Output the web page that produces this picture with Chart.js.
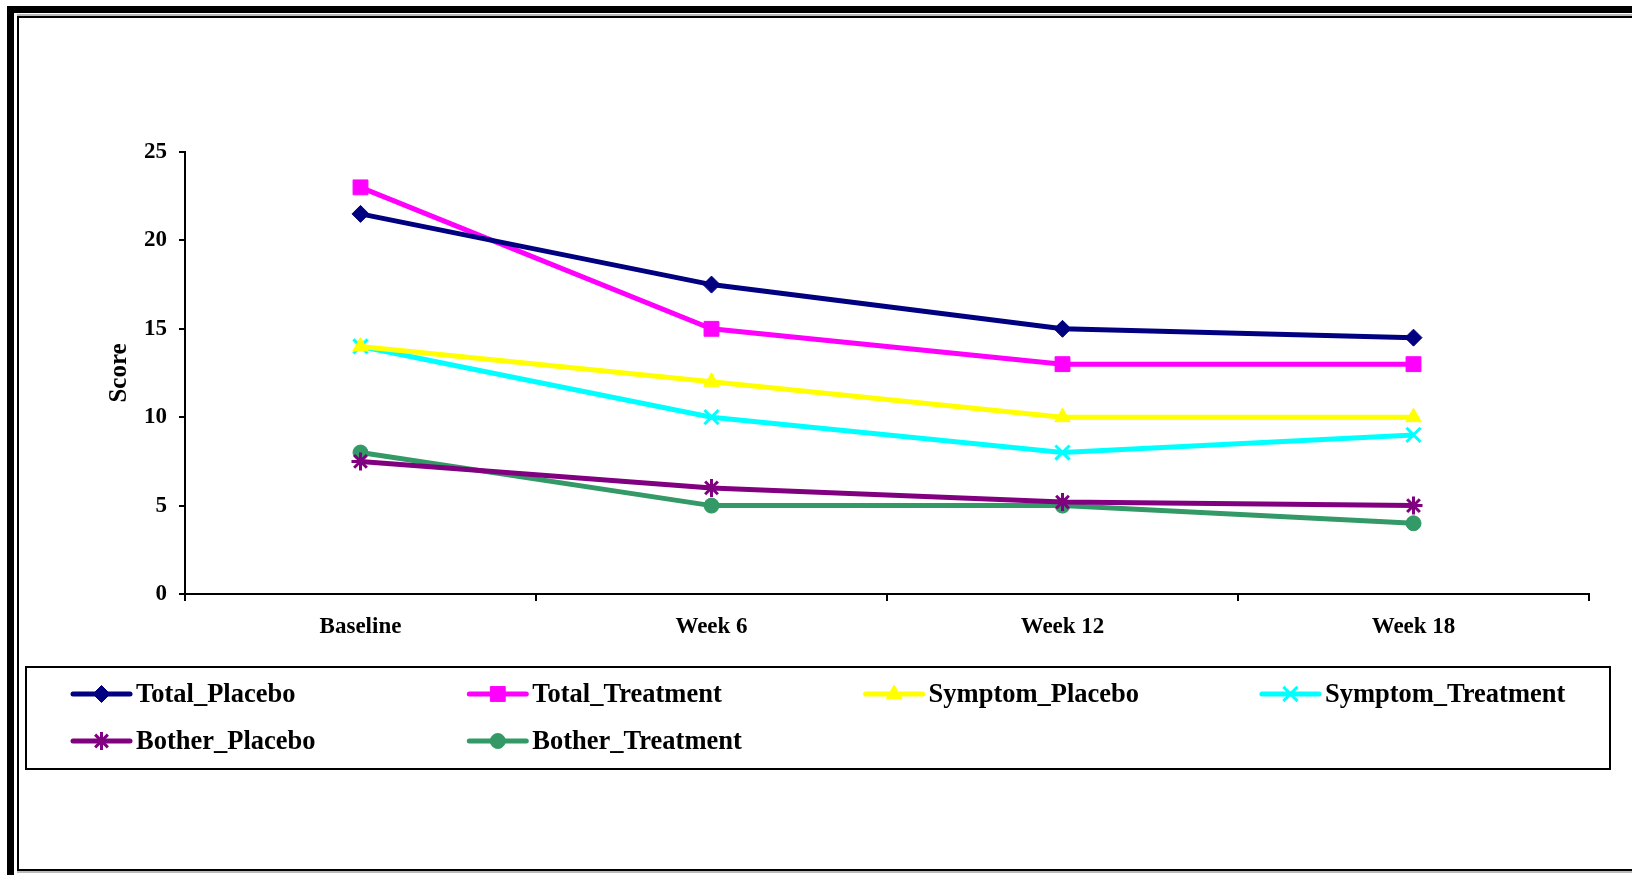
<!DOCTYPE html>
<html>
<head>
<meta charset="utf-8">
<title>Score</title>
<script src="https://cdn.jsdelivr.net/npm/chart.js@4/dist/chart.umd.min.js"></script>
<style>
  html, body { margin: 0; padding: 0; background: #fff; overflow: hidden; }
  #page { position: relative; width: 1632px; height: 875px; overflow: hidden; }
  /* double frame round the chart */
  .frameOuter { position: absolute; left: 7px; top: 6px; width: 2000px; height: 2000px;
    border-left: 7px solid #000; border-top: 7px solid #000; }
  .frameInner { position: absolute; left: 17px; top: 16px; width: 2000px; height: 851px;
    border: 2px solid #000; border-right: none; box-shadow: 0 2px 0 #bbb, 0 -2px 0 #bbb; }
  #myChart { position: absolute; left: 0; top: 0; }
</style>
</head>
<body>
<div id="page">
  <div class="frameOuter"></div>
  <div class="frameInner"></div>
  <canvas id="myChart" width="1632" height="875"></canvas>
</div>
<script>
// time points and scores per group
const weeks = ['Baseline', 'Week 6', 'Week 12', 'Week 18'];
const totalPlacebo = [21.5, 17.5, 15, 14.5];
const totalTreatment = [23, 15, 13, 13];
const symptomPlacebo = [14, 12, 10, 10];
const symptomTreatment = [14, 10, 8, 9];
const botherPlacebo = [7.5, 6, 5.2, 5];
const botherTreatment = [8, 5, 5, 4];

const serif = "'Liberation Serif', 'Times New Roman', serif";
const tickFont = { family: serif, size: 23, weight: 'bold' };
const titleFont = { family: serif, size: 25, weight: 'bold' };

function serie(label, data, color, style, radius, bw) {
  return {
    label: label,
    data: data,
    borderColor: color,
    backgroundColor: color,
    borderWidth: 5,
    tension: 0,
    pointStyle: style,
    pointRadius: radius,
    pointBorderWidth: bw,
    pointBackgroundColor: color,
    pointBorderColor: color
  };
}

// legend drawn in a boxed 4-column grid under the axis
const boxLegend = {
  id: 'boxLegend',
  afterDraw(chart) {
    const ctx = chart.ctx;
    ctx.save();
    ctx.strokeStyle = '#000';
    ctx.lineWidth = 2;
    ctx.strokeRect(26, 667, 1584, 102);
    chart.data.datasets.forEach((ds, i) => {
      const x0 = 73 + (i % 4) * 396.3;
      const y = 694 + Math.floor(i / 4) * 47;
      ctx.strokeStyle = ds.borderColor;
      ctx.lineWidth = 5;
      ctx.lineCap = 'round';
      ctx.beginPath();
      ctx.moveTo(x0, y);
      ctx.lineTo(x0 + 57, y);
      ctx.stroke();
      ctx.fillStyle = ds.pointBackgroundColor;
      ctx.strokeStyle = ds.pointBorderColor;
      ctx.lineWidth = ds.pointBorderWidth;
      ctx.lineCap = 'butt';
      if (Chart.helpers && Chart.helpers.drawPoint) {
        Chart.helpers.drawPoint(ctx, {
          pointStyle: ds.pointStyle,
          radius: ds.pointRadius,
          borderWidth: ds.pointBorderWidth,
          rotation: 0
        }, x0 + 28.5, y);
      }
      ctx.fillStyle = '#000';
      ctx.font = 'bold 26.5px ' + serif;
      ctx.textAlign = 'left';
      ctx.textBaseline = 'middle';
      ctx.fillText(ds.label, x0 + 63, y + 1);
    });
    ctx.restore();
  }
};

const config = {
  type: 'line',
  data: {
    labels: weeks,
    datasets: [
      serie('Total_Placebo', totalPlacebo, '#000080', 'rectRot', 8.5, 1),
      serie('Total_Treatment', totalTreatment, '#FF00FF', 'rect', 10.5, 1),
      serie('Symptom_Placebo', symptomPlacebo, '#FFFF00', 'triangle', 9, 1),
      serie('Symptom_Treatment', symptomTreatment, '#00FFFF', 'crossRot', 10, 3),
      serie('Bother_Placebo', botherPlacebo, '#800080', 'star', 9, 3),
      serie('Bother_Treatment', botherTreatment, '#339966', 'circle', 7.5, 1)
    ]
  },
  options: {
    responsive: false,
    animation: false,
    layout: { padding: { left: 105, right: 43, top: 152, bottom: 200 } },
    plugins: {
      legend: { display: false },
      tooltip: { enabled: false }
    },
    scales: {
      x: {
        offset: true,
        grid: { offset: true, drawOnChartArea: false, tickLength: 7, color: '#000', lineWidth: 2 },
        border: { color: '#000', width: 2 },
        ticks: { color: '#000', font: tickFont, padding: 12, maxRotation: 0 },
        afterFit: s => { s.height = 81; }
      },
      y: {
        min: 0,
        max: 25,
        grid: { drawOnChartArea: false, tickLength: 6, color: '#000', lineWidth: 2 },
        border: { color: '#000', width: 2 },
        ticks: { stepSize: 5, color: '#000', font: tickFont, padding: 12 },
        title: { display: true, text: 'Score', color: '#000', font: titleFont, padding: 0 },
        afterFit: s => { s.width = 80; }
      }
    }
  },
  plugins: [boxLegend]
};

const myChart = new Chart(document.getElementById('myChart'), config);
</script>
</body>
</html>
